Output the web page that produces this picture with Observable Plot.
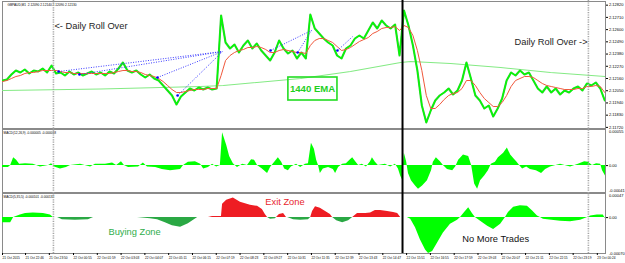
<!DOCTYPE html>
<html><head><meta charset="utf-8">
<script src="https://cdn.jsdelivr.net/npm/d3@7"></script>
<script src="https://cdn.jsdelivr.net/npm/@observablehq/plot@0.6"></script>
<style>
html,body{margin:0;padding:0;background:#fff;}
#chart{position:relative;width:625px;height:263px;overflow:hidden;background:#fff;}
#chart svg{position:absolute;left:0;}
</style></head><body><div id="chart"></div>
<script>
// ---------- data ----------
const priceTitle = "GBPAUD,M1  2.12090 2.12140 2.12090 2.12130";
const macd1Title = "MACD(12,26,9) -0.000005 -0.000018";
const macd2Title = "MACD(5,35,5) -0.000101 -0.000132";

// time in minutes since 21 Oct 21:44
const sampleStep = 12;
const closePrices = [2.12142,2.12151,2.12196,2.12232,2.12214,2.12241,2.12205,2.12232,2.12223,2.12250,
 2.12214,2.12277,2.12205,2.12214,2.12187,2.12223,2.12196,2.12214,2.12187,2.12205,
 2.12223,2.12196,2.12214,2.12187,2.12223,2.12205,2.12250,2.12304,2.12232,2.12214,
 2.12232,2.12196,2.12169,2.12196,2.12160,2.12142,2.12097,2.12052,2.12007,2.11926,
 2.11998,2.12034,2.12070,2.12052,2.12079,2.12061,2.12079,2.12061,2.12070,2.12727,
 2.12484,2.12430,2.12466,2.12394,2.12457,2.12502,2.12430,2.12475,2.12412,2.12367,
 2.12322,2.12394,2.12502,2.12430,2.12385,2.12412,2.12340,2.12394,2.12340,2.12736,
 2.12610,2.12565,2.12520,2.12484,2.12457,2.12367,2.12340,2.12430,2.12457,2.12520,
 2.12547,2.12520,2.12592,2.12664,2.12610,2.12682,2.12637,2.12610,2.12646,2.12367,
 2.12772,2.12637,2.12457,2.12232,2.11917,2.11764,2.11872,2.11962,2.12007,2.12034,
 2.12070,2.12016,2.12052,2.12142,2.12304,2.12160,2.12007,2.11962,2.11890,2.11917,
 2.11818,2.11890,2.11980,2.12142,2.12214,2.12187,2.12232,2.12196,2.12214,2.12142,
 2.12070,2.12034,2.12088,2.12034,2.12070,2.12016,2.12052,2.12034,2.12070,2.12088,
 2.12052,2.12115,2.12097,2.12124,2.12070,2.11962];
const fastEma = [2.12133,2.12142,2.12160,2.12178,2.12187,2.12205,2.12214,2.12214,2.12223,2.12232,
 2.12232,2.12232,2.12232,2.12223,2.12214,2.12214,2.12205,2.12205,2.12205,2.12205,
 2.12205,2.12205,2.12205,2.12205,2.12205,2.12214,2.12223,2.12232,2.12232,2.12223,
 2.12223,2.12214,2.12196,2.12187,2.12178,2.12160,2.12133,2.12097,2.12061,2.12034,
 2.12034,2.12043,2.12052,2.12061,2.12061,2.12061,2.12070,2.12070,2.12070,2.12187,
 2.12322,2.12367,2.12394,2.12412,2.12421,2.12439,2.12439,2.12448,2.12439,2.12421,
 2.12394,2.12394,2.12412,2.12421,2.12412,2.12403,2.12394,2.12394,2.12385,2.12457,
 2.12502,2.12520,2.12520,2.12502,2.12484,2.12448,2.12412,2.12421,2.12439,2.12466,
 2.12493,2.12511,2.12529,2.12565,2.12583,2.12610,2.12619,2.12619,2.12628,2.12592,
 2.12637,2.12619,2.12547,2.12412,2.12232,2.12007,2.11890,2.11890,2.11926,2.11971,
 2.12007,2.12025,2.12034,2.12070,2.12142,2.12142,2.12097,2.12034,2.11980,2.11944,
 2.11908,2.11908,2.11944,2.12007,2.12088,2.12142,2.12160,2.12178,2.12178,2.12169,
 2.12142,2.12115,2.12097,2.12088,2.12079,2.12070,2.12061,2.12061,2.12061,2.12070,
 2.12070,2.12088,2.12088,2.12097,2.12088,2.12034];
const slowEmaTime  = [0,264,533,594,802,936,1071,1098,1205,1340,1474,1622];
const slowEmaValue = [2.12052,2.12066,2.12088,2.12097,2.12160,2.12223,2.12304,2.12313,2.12295,2.12259,2.12214,2.12178];

const tradeOpenTime   = [151,207,417,471,721,794,901];
const tradeOpenPrice  = [2.12223,2.12196,2.12169,2.12007,2.12412,2.12394,2.12412];
const tradeCloseTime  = [592,592,592,592,831,831,942];
const tradeClosePrice = [2.12403,2.12403,2.12403,2.12403,2.12592,2.12592,2.12538];

const priceTicks = [2.12820,2.12710,2.12600,2.12490,2.12380,2.12270,2.12160,2.12050,2.11940,2.11830,2.11720];
const priceNoteText  = ["<- Daily Roll Over","Daily Roll Over ->","1440 EMA"];
const priceNoteTime  = [137,1574,834];
const priceNoteValue = [2.12628,2.12484,2.12070];
const emaBoxTime  = [769,901];
const emaBoxValue = [2.12169,2.11962];

// MACD values in points (1 point = 0.00001)
const macd1Range = [-41,55];
const macd1Time = [0,16,22,30,38,46,62,83,102,124,132,140,156,172,183,210,237,250,277,296,
 307,320,328,339,366,379,390,412,430,452,479,487,500,519,533,541,554,565,576,586,
 592,603,611,621,632,646,659,670,678,686,699,713,721,729,742,751,759,769,777,791,
 802,815,823,831,839,845,850,855,863,877,890,896,904,915,925,936,942,950,958,968,
 979,990,995,1003,1011,1030,1044,1057,1065,1071,1076,1081,1087,1092,1100,1111,1119,1130,1143,1154,
 1159,1167,1178,1186,1197,1211,1219,1227,1240,1254,1262,1270,1278,1286,1297,1307,1315,1326,1334,1348,
 1358,1367,1375,1383,1391,1399,1410,1420,1436,1450,1461,1474,1501,1528,1549,1566,1576,1587,1598,1609,
 1614,1622];
const macd1Value = [-3,-3,0,12,8,2,3,2,-2,0,3,-2,-5,-3,0,2,-2,2,2,4,
 0,6,0,-3,-2,4,-2,-3,-6,-8,-6,0,5,6,2,-5,-3,2,-2,0,
 50,31,14,3,-3,2,0,9,8,0,-5,-12,-3,3,12,5,-5,-8,-2,2,
 -3,2,3,34,25,8,0,-12,-5,-3,-6,-12,-3,2,3,9,12,6,0,2,
 -2,6,12,5,0,2,-2,2,-5,-16,-22,19,6,-12,-23,-31,-36,-31,-23,-8,
 5,12,6,0,-6,-8,-2,8,16,14,0,-28,-36,-23,-16,-8,2,5,12,19,
 27,16,11,6,0,-5,-2,-6,-8,-12,-6,-2,2,-2,2,6,5,0,3,2,
 -8,-16];

const macd2Range = [-70,47];
const macd2Time = [0,22,30,48,62,83,110,129,137, 148,161,196,231,245, 363,398,417,438,457,479,500,525,
 554,565,586,589,592,603,621,640,667,686,699,707,713, 713,721,734,737, 737,745,756,764,
 767,783,802,823,829, 829,834,842,855,869,882,888, 888,899,915,931,942,
 942,955,977,990,1003,1017,1036,1052,1063,1071,
 1076,1089,1098,1111,1124,1138,1146,1157,1170,1186,1205,1224,1232,1243,1254,1264,1272,1286,1305,1321,
 1340,1353,1361,1375,1393,1412,1426,1439,1447,1455,1501,1528,1555,1574,1582,1600,1616,1622];
const macd2Value = [-10,-10,0,5,8,9,8,5,0, 0,-4,-5,-4,0, 0,-2,-4,-10,-16,-19,-12,0,
 0,2,2,2,26,34,38,30,24,22,16,6,0, 0,-3,-2,0, 0,6,8,0,
 0,-4,-5,-4,0, 0,12,21,18,12,6,0, 0,-6,-10,-6,0,
 0,8,8,9,14,14,12,10,8,0,
 0,0,-3,-20,-43,-63,-70,-66,-50,-30,-13,-5,0,10,19,8,0,-7,-17,-23,
 -13,0,10,20,23,22,13,3,0,-3,-7,-8,-5,0,3,5,5,-2];
const macd2ZoneRuns = [["up",9],["buy",13],["exit",13],["buy",4],["exit",4],["buy",5],["exit",7],["buy",5],["exit",10],["up",38]];
const macd2NoteText  = ["Exit Zone","Buying Zone","No More Trades"];
const macd2NoteTime  = [707,285,1237];
const macd2NoteValue = [31,-29,-41];

const timeTicks  = [0,62,126,191,255,319,383,447,511,575,639,703,767,831,895,959,1023,1087,1151,1215,1279,1343,1407,1471,1535,1600];
const timeLabels = ["21 Oct 2015","21 Oct 22:46","21 Oct 23:50","22 Oct 00:55","22 Oct 01:59","22 Oct 03:03","22 Oct 04:07","22 Oct 05:11","22 Oct 06:15","22 Oct 07:19","22 Oct 08:23","22 Oct 09:27","22 Oct 10:31","22 Oct 11:35","22 Oct 12:39","22 Oct 13:43","22 Oct 14:47","22 Oct 15:51","22 Oct 16:55","22 Oct 17:59","22 Oct 19:03","22 Oct 20:07","22 Oct 21:11","22 Oct 22:15","22 Oct 23:19","23 Oct 00:24"];
const rollOverTimes = [137,1576];
const cutoffTimes = [1076];
const timeDomain = [0,1622];

// ---------- build ----------
const chart = document.getElementById("chart");
const FONT = "'Liberation Sans', Arial, sans-serif";
const common = {
  width: 625, marginLeft: 2, marginRight: 20,
  style: {fontFamily: FONT, background: "transparent", overflow: "visible", color: "#000"}
};
const pts = v => (v / 1e5).toFixed(5);
const place = (svg, top) => { svg.style.top = top + "px"; chart.appendChild(svg); };

const priceData = closePrices.map((p, i) => ({t: i * sampleStep, close: p, ema: fastEma[i]}));
const slowData = slowEmaTime.map((t, i) => ({t, v: slowEmaValue[i]}));
const trades = tradeOpenTime.map((t, i) => ({t1: t, p1: tradeOpenPrice[i], t2: tradeCloseTime[i], p2: tradeClosePrice[i]}));
const notes1 = priceNoteText.map((s, i) => ({s, t: priceNoteTime[i], v: priceNoteValue[i]}));
const box = [{x1: emaBoxTime[0], x2: emaBoxTime[1], y1: emaBoxValue[0], y2: emaBoxValue[1]}];

const pane1 = Plot.plot({
  ...common, height: 128, marginTop: 1, marginBottom: 0,
  x: {domain: timeDomain, axis: null},
  y: {domain: [2.11710, 2.12853], label: null},
  marks: [
    Plot.frame({stroke: "#8a8a8a"}),
    Plot.line(slowData, {x: "t", y: "v", stroke: "#84ea84", strokeWidth: 1.1, clip: true}),
    Plot.line(priceData, {x: "t", y: "close", stroke: "#33cc33", strokeWidth: 2.1, clip: true}),
    Plot.line(priceData, {x: "t", y: "close", stroke: "#00ff00", strokeWidth: 1.1, clip: true}),
    Plot.line(priceData, {x: "t", y: "ema", stroke: "#f0583c", strokeWidth: 1, clip: true}),
    Plot.link(trades, {x1: "t1", y1: "p1", x2: "t2", y2: "p2", stroke: "#3b3bff", strokeWidth: 1, strokeDasharray: "1 1.5"}),
    Plot.dot(trades, {x: "t1", y: "p1", r: 1.3, fill: "#0000ff", stroke: null}),
    Plot.rect(box, {x1: "x1", x2: "x2", y1: "y1", y2: "y2", fill: "none", stroke: "#22dd22", strokeWidth: 1.6}),
    Plot.text([notes1[0]], {x: "t", y: "v", text: "s", textAnchor: "start", dx: 1, fontSize: 9.3, fill: "#1e1e1e"}),
    Plot.text([notes1[1]], {x: "t", y: "v", text: "s", textAnchor: "end", fontSize: 9.3, fill: "#1e1e1e"}),
    Plot.text([notes1[2]], {x: "t", y: "v", text: "s", textAnchor: "middle", fontSize: 9.6, fill: "#1fd01f", fontWeight: "bold"}),
    Plot.axisY(priceTicks, {anchor: "right", tickSize: 2, tickPadding: 1.5, fontSize: 4, label: null, tickFormat: d => d.toFixed(5)}),
    Plot.text([priceTitle], {frameAnchor: "top-left", dx: 5, dy: 2, fontSize: 3.2, textAnchor: "start", lineAnchor: "top", fill: "#000"})
  ]
});
place(pane1, 0);

const macd1Data = macd1Time.map((t, i) => ({t, v: macd1Value[i]}));
const pane2 = Plot.plot({
  ...common, height: 64, marginTop: 1, marginBottom: 0,
  x: {domain: timeDomain, axis: null},
  y: {domain: macd1Range, label: null},
  marks: [
    Plot.frame({stroke: "#8a8a8a"}),
    Plot.areaY(macd1Data, {x: "t", y: "v", fill: "#00ff00", curve: "linear", clip: true}),
    Plot.axisY([0], {anchor: "right", tickSize: 2, tickPadding: 1.5, fontSize: 4, label: null, tickFormat: () => "0.00"}),
    Plot.text([pts(macd1Range[1])], {frameAnchor: "top-right", textAnchor: "start", lineAnchor: "top", dx: 3.5, dy: 1, fontSize: 4}),
    Plot.text([pts(macd1Range[0])], {frameAnchor: "bottom-right", textAnchor: "start", lineAnchor: "bottom", dx: 3.5, dy: -1, fontSize: 4}),
    Plot.text([macd1Title], {frameAnchor: "top-left", dx: 1, dy: 2.5, fontSize: 3.2, textAnchor: "start", lineAnchor: "top"})
  ]
});
place(pane2, 128);

const zones = macd2ZoneRuns.flatMap(([z, n]) => Array(n).fill(z));
const zoneColor = {up: "#00ff00", buy: "#2aa844", exit: "#ee1d23"};
const macd2Data = macd2Time.map((t, i) => ({t, v: macd2Value[i], zone: zones[i]}));
const notes3 = macd2NoteText.map((s, i) => ({s, t: macd2NoteTime[i], v: macd2NoteValue[i]}));
const labelOf = new Map(timeTicks.map((t, i) => [t, timeLabels[i]]));
const pane3 = Plot.plot({
  ...common, height: 71, marginTop: 1, marginBottom: 10,
  x: {domain: timeDomain},
  y: {domain: macd2Range, label: null},
  marks: [
    Plot.frame({stroke: "#8a8a8a"}),
    Plot.areaY(macd2Data, {x: "t", y: "v", z: "zone", fill: d => zoneColor[d.zone], curve: "linear", clip: true}),
    Plot.text([notes3[0]], {x: "t", y: "v", text: "s", textAnchor: "start", fontSize: 9.3, fill: "#e8242b"}),
    Plot.text([notes3[1]], {x: "t", y: "v", text: "s", textAnchor: "start", fontSize: 9.3, fill: "#2fae4a"}),
    Plot.text([notes3[2]], {x: "t", y: "v", text: "s", textAnchor: "start", fontSize: 9.3, fill: "#111"}),
    Plot.axisY([0], {anchor: "right", tickSize: 2, tickPadding: 1.5, fontSize: 4, label: null, tickFormat: () => "0.00"}),
    Plot.text([pts(macd2Range[1])], {frameAnchor: "top-right", textAnchor: "start", lineAnchor: "top", dx: 3.5, dy: 1, fontSize: 4}),
    Plot.text([pts(macd2Range[0])], {frameAnchor: "bottom-right", textAnchor: "start", lineAnchor: "middle", dx: 3.5, fontSize: 4}),
    Plot.axisX(timeTicks, {anchor: "bottom", tickSize: 2, tickPadding: 1.2, fontSize: 3.2, textAnchor: "start", label: null, tickFormat: d => labelOf.get(d)}),
    Plot.text([macd2Title], {frameAnchor: "top-left", dx: 1, dy: 2.5, fontSize: 3.2, textAnchor: "start", lineAnchor: "top"})
  ]
});
place(pane3, 192);

const overlay = Plot.plot({
  width: 625, height: 263, marginLeft: 2, marginRight: 20, marginTop: 0, marginBottom: 10,
  x: {domain: timeDomain, axis: null},
  style: {background: "transparent", overflow: "visible"},
  marks: [
    Plot.ruleX(rollOverTimes, {stroke: "#a6a6a6", strokeWidth: 1.6, strokeDasharray: "1.2 1.2"}),
    Plot.ruleX(cutoffTimes, {stroke: "#000", strokeWidth: 2})
  ]
});
overlay.style.pointerEvents = "none";
place(overlay, 0);
</script></body></html>
